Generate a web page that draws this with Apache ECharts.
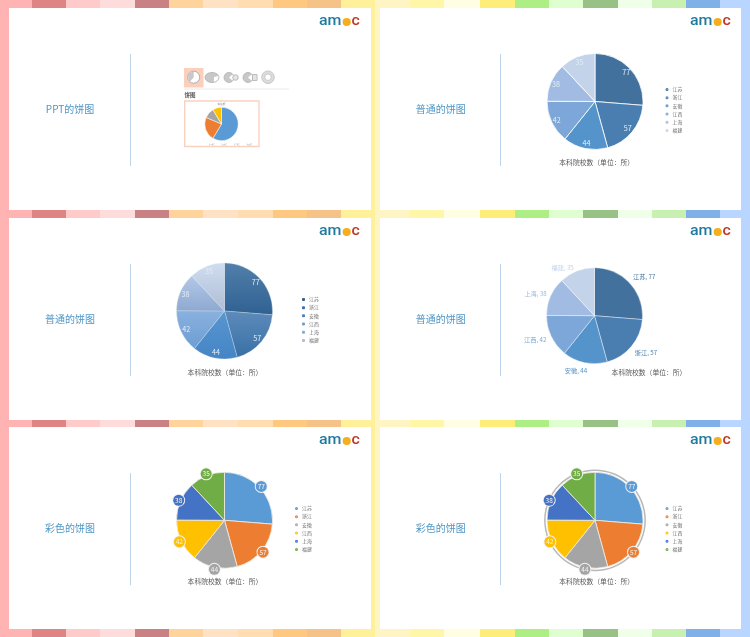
<!DOCTYPE html>
<html>
<head>
<meta charset="utf-8">
<style>html,body{margin:0;padding:0;background:#fff}#c{width:750px;height:637px;filter:blur(0.35px)}</style>
<script src="https://cdn.jsdelivr.net/npm/echarts@6/dist/echarts.min.js"></script>
</head>
<body>
<div id="c"></div>
<script>
const categories = ['江苏','浙江','安徽','江西','上海','福建'];
const collegeCounts = [77,57,44,42,38,35];
const thumbCategories = ['第一季度','第二季度','第三季度','第四季度'];
const thumbValues = [8.2,3.2,1.4,1.2];
const thumbColors = ['#5B9BD5','#ED7D31','#A5A5A5','#FFC000'];
const blues = ['#41719C','#4A7EB0','#5593CB','#7CA7D8','#A1BBE3','#C3D3EA'];
const blueTop = ['#527FAB','#5D8BBA','#5796D0','#8AB1DF','#B2C8E8','#D0DDF0'];
const blueBottom = ['#2F6191','#3A70A6','#4585C5','#6C9DD3','#8EA9D0','#AEBDD6'];
const vivid = ['#5B9BD5','#ED7D31','#A5A5A5','#FFC000','#4472C4','#70AD47'];
const stripeEdges = [0,32,66,100,135,169,203,238,273,307,341,375,410,444,480,515,549,583,618,652,686,720,750];
const stripeColors = ['#FFB3B3','#DE8484','#FFCACA','#FFDCDC','#C98183','#FFD39C','#FFE2C4','#FFDDB0','#FFC880','#F5C388','#FFF199','#FFF5C4','#FFF6A8','#FFFDE2','#FFED7A','#ADEE85','#E0FFD0','#98C285','#EFFFE8','#C8F0B0','#80B0E8','#B8D6FF'];
const panelTitles = ['PPT的饼图','普通的饼图','普通的饼图','普通的饼图','彩色的饼图','彩色的饼图'];
const chartCaption = '本科院校数（单位：所）';

const FONT = '"Noto Sans CJK SC","Noto Sans",sans-serif';
const panels = [
  {x:9,  y:8,  w:362, h:202, title:[70,109],    line:[130.5,54,166],   logo:[0,0]},
  {x:380,y:8,  w:361, h:202, title:[440.7,109], line:[500.5,54,166],   logo:[371,0]},
  {x:9,  y:218,w:362, h:202, title:[70,319],    line:[130.5,264,376],  logo:[0,210]},
  {x:380,y:218,w:361, h:202, title:[440.7,319], line:[500.5,264,376],  logo:[371,210]},
  {x:9,  y:427,w:362, h:202, title:[70,528.3],  line:[130.5,473,585],  logo:[0,419]},
  {x:380,y:427,w:361, h:202, title:[440.7,528.3],line:[500.5,473,585], logo:[371,419]}
];
const g = [];
stripeColors.forEach((c,i)=>g.push({type:'rect',z:0,silent:true,shape:{x:stripeEdges[i],y:0,width:stripeEdges[i+1]-stripeEdges[i],height:637},style:{fill:c}}));
panels.forEach((p,i)=>{
  g.push({type:'rect',z:1,silent:true,shape:{x:p.x,y:p.y,width:p.w,height:p.h},style:{fill:'#fff'}});
  g.push({type:'line',z:1,silent:true,shape:{x1:p.line[0],y1:p.line[1],x2:p.line[0],y2:p.line[2]},style:{stroke:'#BCD5EC',lineWidth:1}});
  g.push({type:'text',z:1,x:p.title[0],y:p.title[1],style:{text:panelTitles[i],font:'10px '+FONT,fill:'#4F96C4',align:'center',verticalAlign:'middle'}});
  const lx=p.logo[0], ly=p.logo[1];
  g.push({type:'text',z:1,x:319+lx,y:21.5+ly,scaleX:1.1,style:{text:'am',font:'500 14.5px Roboto',fill:'#1F7A9E',align:'left',verticalAlign:'middle'}});
  g.push({type:'circle',z:1,shape:{cx:346.7+lx,cy:22+ly,r:4.1},style:{fill:'#F7AE1E'}});
  g.push({type:'text',z:1,x:351.5+lx,y:21.5+ly,scaleX:1.1,style:{text:'c',font:'500 14.5px Roboto',fill:'#C0392B',align:'left',verticalAlign:'middle'}});
});
[[596.7,162],[225,372],[649,372.5],[225,581],[596.7,581]].forEach(c=>{
  g.push({type:'text',z:1,x:c[0],y:c[1],style:{text:chartCaption,font:'6.8px '+FONT,fill:'#595959',align:'center',verticalAlign:'middle'}});
});
// Panel 1: chart-picker screenshot
const grey='#C8C8C8', edge='#B0B0B0';
g.push({type:'rect',z:1,shape:{x:184,y:68,width:19.5,height:19.5},style:{fill:'#FBCFBC'}});
g.push({type:'circle',z:1,shape:{cx:193.7,cy:77.2,r:6},style:{fill:'#fff',stroke:edge,lineWidth:1}});
g.push({type:'sector',z:1,shape:{cx:193.7,cy:77.2,r:5.5,r0:0,startAngle:Math.PI*0.72,endAngle:Math.PI*1.5},style:{fill:grey}});
g.push({type:'ellipse',z:1,shape:{cx:212,cy:77.5,rx:7,ry:5},style:{fill:grey,stroke:edge,lineWidth:0.8}});
g.push({type:'sector',z:1,shape:{cx:214,cy:77,r:4.5,r0:0,startAngle:-0.2,endAngle:1.6},style:{fill:'#fff'}});
g.push({type:'circle',z:1,shape:{cx:229,cy:77.5,r:5},style:{fill:grey,stroke:edge,lineWidth:0.8}});
g.push({type:'sector',z:1,shape:{cx:229,cy:77.5,r:4.5,r0:0,startAngle:-0.7,endAngle:0.7},style:{fill:'#fff'}});
g.push({type:'circle',z:1,shape:{cx:235.5,cy:77.5,r:2.8},style:{fill:'#E4E4E4',stroke:edge,lineWidth:0.8}});
g.push({type:'circle',z:1,shape:{cx:248,cy:77.5,r:5},style:{fill:grey,stroke:edge,lineWidth:0.8}});
g.push({type:'sector',z:1,shape:{cx:248,cy:77.5,r:4.5,r0:0,startAngle:-0.7,endAngle:0.7},style:{fill:'#fff'}});
g.push({type:'rect',z:1,shape:{x:252.5,y:74.5,width:4.5,height:6},style:{fill:'#E4E4E4',stroke:edge,lineWidth:0.8}});
g.push({type:'ring',z:1,shape:{cx:268,cy:77.2,r:6.3,r0:3.2},style:{fill:'#DCDCDC',stroke:edge,lineWidth:0.6}});
g.push({type:'line',z:1,shape:{x1:184,y1:89,x2:289,y2:89},style:{stroke:'#E8E8E8',lineWidth:1}});
g.push({type:'text',z:1,x:184.5,y:95,style:{text:'饼图',font:'bold 5.5px '+FONT,fill:'#555',align:'left',verticalAlign:'middle'}});
g.push({type:'rect',z:1,shape:{x:184.7,y:101,width:74.3,height:45.5},style:{fill:'#fff',stroke:'#F9D2BF',lineWidth:1.4}});
g.push({type:'text',z:1,x:221.5,y:104,style:{text:'销售额',font:'2.6px '+FONT,fill:'#999',align:'center',verticalAlign:'middle'}});

const legendAt = (left,top,cols,icon)=>({
  left,top,orient:'vertical',icon,selectedMode:false,itemWidth:1,itemHeight:1,itemGap:3.9,padding:0,
  // a 1px marker with a 2px stroke gives a 3px dot while keeping the label close to it
  data:categories.map((n,i)=>({name:n,itemStyle:{color:cols[i],borderColor:cols[i],borderWidth:2}})),
  textStyle:{fontSize:4.9,lineHeight:4.3,height:4.3,color:'#6A6A6A',fontFamily:FONT}
});
const pieData = (cols)=>categories.map((n,i)=>({name:n,value:collegeCounts[i],itemStyle:{color:cols[i]}}));
const slicePie = (cx,cy,data,border,bw,extra)=>Object.assign({
  type:'pie',center:[cx,cy],radius:[0,48],startAngle:90,clockwise:true,silent:true,animation:false,
  data,label:{show:false},labelLine:{show:false},avoidLabelOverlap:false,
  itemStyle:{borderColor:border,borderWidth:bw}
},extra||{});
// transparent layer that carries the value labels at a chosen radius
const labelPie = (cx,cy,r,labelFor)=>({
  type:'pie',center:[cx,cy],radius:[r-0.5,r+0.5],startAngle:90,clockwise:true,silent:true,animation:false,
  avoidLabelOverlap:false,labelLine:{show:false},
  itemStyle:{color:'rgba(0,0,0,0)',borderWidth:0},
  data:categories.map((n,i)=>({name:n,value:collegeCounts[i],label:labelFor(i)}))
});
const plainLabel = ()=>({show:true,position:'inside',formatter:'{c}',fontSize:7.2,color:'#E6EDF5',fontFamily:FONT});
const badgeLabel = (i)=>({show:true,position:'inside',formatter:'{c}',fontSize:6.5,color:'#F4F4F4',fontFamily:FONT,
  backgroundColor:vivid[i],borderColor:'#F2F2F2',borderWidth:1,borderRadius:6,width:11,height:11,lineHeight:11,align:'center',verticalAlign:'middle'});

const gradData = categories.map((n,i)=>({name:n,value:collegeCounts[i],itemStyle:{color:new echarts.graphic.LinearGradient(0,0,0,1,[{offset:0,color:blueTop[i]},{offset:1,color:blueBottom[i]}])}}));

const series = [
  // Panel 1 thumbnail
  {type:'pie',center:[221.5,124],radius:[0,16.7],startAngle:90,silent:true,animation:false,label:{show:false},labelLine:{show:false},
   itemStyle:{borderColor:'#fff',borderWidth:0.5},
   data:thumbCategories.map((n,i)=>({name:n,value:thumbValues[i],itemStyle:{color:thumbColors[i]}}))},
  // Panel 2
  slicePie(595,101.5,pieData(blues),'#fff',0.8),
  labelPie(595,101.5,39.5,plainLabel),
  // Panel 3
  slicePie(224.5,311,gradData,'#DCE7F3',0.3),
  labelPie(224.5,311,39.5,plainLabel),
  // Panel 4
  slicePie(594.5,315.7,categories.map((n,i)=>({name:n,value:collegeCounts[i],itemStyle:{color:blues[i]},label:{color:blues[i]}})),'#fff',0.4,{
    label:{show:true,position:'outside',formatter:'{b}, {c}',fontSize:6.2,fontFamily:FONT},
    labelLine:{show:false,length:3,length2:0},
    labelLayout:(p)=>({dx:[-4,-4,8,3,4,3][p.dataIndex],dy:[-4,4,5,2,-2,-1][p.dataIndex]})
  }),
  // Panel 5
  slicePie(224.5,520.3,pieData(vivid),'#F0EDE6',0.8),
  labelPie(224.5,520.3,47,badgeLabel),
  // Panel 6
  {type:'pie',center:[595,520.3],radius:[49.4,50.9],silent:true,animation:false,label:{show:false},labelLine:{show:false},
   data:[{name:'外环',value:1,itemStyle:{color:'#B8B8B8'}}]},
  slicePie(595,520.3,pieData(vivid),'#F0EDE6',0.8),
  labelPie(595,520.3,47,badgeLabel)
];

const chart = echarts.init(document.getElementById('c'),null,{renderer:'canvas'});
chart.setOption({
  animation:false,
  backgroundColor:'#fff',
  legend:[
    Object.assign(legendAt(665.5,87,blues,'circle'),{itemGap:3.3}),
    Object.assign(legendAt(302,297,blueBottom,'rect'),{itemGap:3.3}),
    Object.assign(legendAt(295,506,vivid,'circle'),{itemGap:3.3}),
    Object.assign(legendAt(665.5,506,vivid,'circle'),{itemGap:3.3}),
    {left:202,top:142.5,orient:'horizontal',icon:'rect',selectedMode:false,itemWidth:1,itemHeight:1,itemGap:0,padding:0,
     data:thumbCategories.map((n,i)=>({name:n,itemStyle:{color:thumbColors[i]}})),
     textStyle:{fontSize:1.4,color:'#999',fontFamily:FONT}}
  ],
  graphic:{elements:g},
  series
});
</script>
</body>
</html>
